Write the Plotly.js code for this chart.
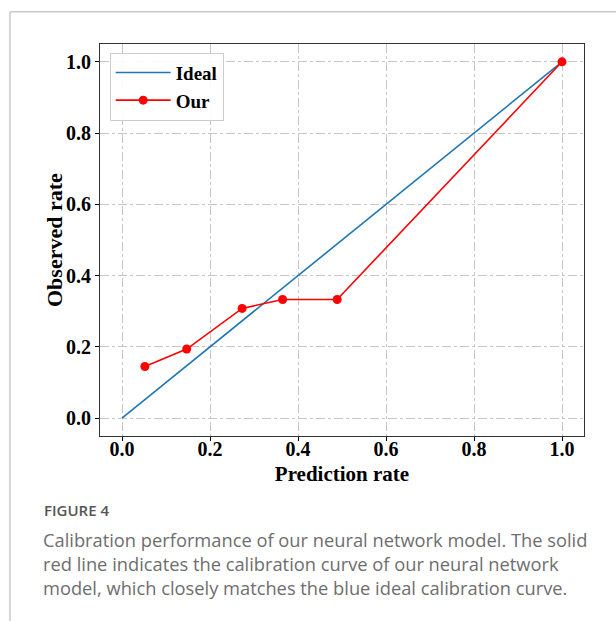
<!DOCTYPE html>
<html>
<head>
<meta charset="utf-8">
<script src="https://cdn.plot.ly/plotly-3.0.1.min.js"></script>
<style>
html,body{margin:0;padding:0;background:#fff;}
#chart{width:616px;height:621px;}
</style>
</head>
<body>
<div id="chart"></div>
<script>
const idealX = [0.0, 1.0];
const idealY = [0.0, 1.0];
const ourX = [0.052, 0.147, 0.273, 0.365, 0.489, 1.0];
const ourY = [0.145, 0.194, 0.308, 0.333, 0.333, 1.0];
const tickVals = [0.0, 0.2, 0.4, 0.6, 0.8, 1.0];
const tickText = ["0.0", "0.2", "0.4", "0.6", "0.8", "1.0"];
const seriesNames = ["Ideal", "Our"];
const xTitle = "Prediction rate";
const yTitle = "Observed rate";
const captionHead = "FIGURE 4";
const captionLines = [
  "Calibration performance of our neural network model. The solid",
  "red line indicates the calibration curve of our neural network",
  "model, which closely matches the blue ideal calibration curve."
];

const serif = "Liberation Serif, Times New Roman, serif";
const sans = "Open Sans, Lato, sans-serif";

const traces = [
  {x: idealX, y: idealY, name: seriesNames[0], mode: "lines", type: "scatter",
   line: {color: "#1f77b4", width: 1.6}},
  {x: ourX, y: ourY, name: seriesNames[1], mode: "lines+markers", type: "scatter",
   line: {color: "#ff0000", width: 1.6}, marker: {color: "#ff0000", size: 9}}
];

const axisCommon = {
  range: [-0.05, 1.05], tickvals: tickVals, ticktext: tickText,
  showgrid: true, gridcolor: "#b8b8b8", gridwidth: 0.8, griddash: "dashdot",
  zeroline: false, showline: true, mirror: true, linecolor: "#333", linewidth: 1,
  ticks: "outside", ticklen: 4, tickcolor: "#000", tickwidth: 1,
  tickfont: {family: serif, size: 20, color: "#000", weight: "bold"}
};

const annotations = [
  {xref: "paper", yref: "paper", x: -0.095, y: 0.5, xanchor: "center", yanchor: "middle",
   textangle: -90, text: yTitle, showarrow: false,
   font: {family: serif, size: 22, color: "#000", weight: "bold"}},
  {xref: "paper", yref: "paper", x: -0.12, y: -0.19, xanchor: "left", yanchor: "middle",
   text: captionHead, showarrow: false, font: {family: sans, size: 15, color: "#555", weight: 600}}
];
captionLines.forEach((t, i) => {
  annotations.push({xref: "paper", yref: "paper", x: -0.121, y: -0.263 - i * 0.0613,
    xanchor: "left", yanchor: "middle", text: t, showarrow: false,
    font: {family: sans, size: 18.3, color: "#6e6e6e"}});
});

const layout = {
  width: 616, height: 621,
  margin: {l: 100, r: 32, t: 44, b: 185},
  paper_bgcolor: "#fff", plot_bgcolor: "#fff",
  showlegend: true,
  legend: {x: 0.02, y: 0.978, xanchor: "left", yanchor: "top", itemwidth: 55,
    bgcolor: "rgba(255,255,255,0.9)", bordercolor: "#cccccc", borderwidth: 1,
    font: {family: serif, size: 19, color: "#000", weight: "bold"}},
  xaxis: Object.assign({}, axisCommon, {
    ticklabelstandoff: -9,
    title: {text: xTitle, standoff: 7,
      font: {family: serif, size: 21, color: "#000", weight: "bold"}}}),
  yaxis: Object.assign({}, axisCommon),
  annotations: annotations,
  shapes: [
    {type: "line", xref: "paper", yref: "paper", x0: -0.186, x1: 1.2, y0: 1.0825, y1: 1.0825,
     line: {color: "#c8c8c8", width: 1.5}},
    {type: "line", xref: "paper", yref: "paper", x0: -0.186, x1: -0.186, y0: 1.0825, y1: -0.5,
     line: {color: "#c8c8c8", width: 1.5}}
  ]
};

Plotly.newPlot("chart", traces, layout, {displayModeBar: false, staticPlot: true});
</script>
</body>
</html>
